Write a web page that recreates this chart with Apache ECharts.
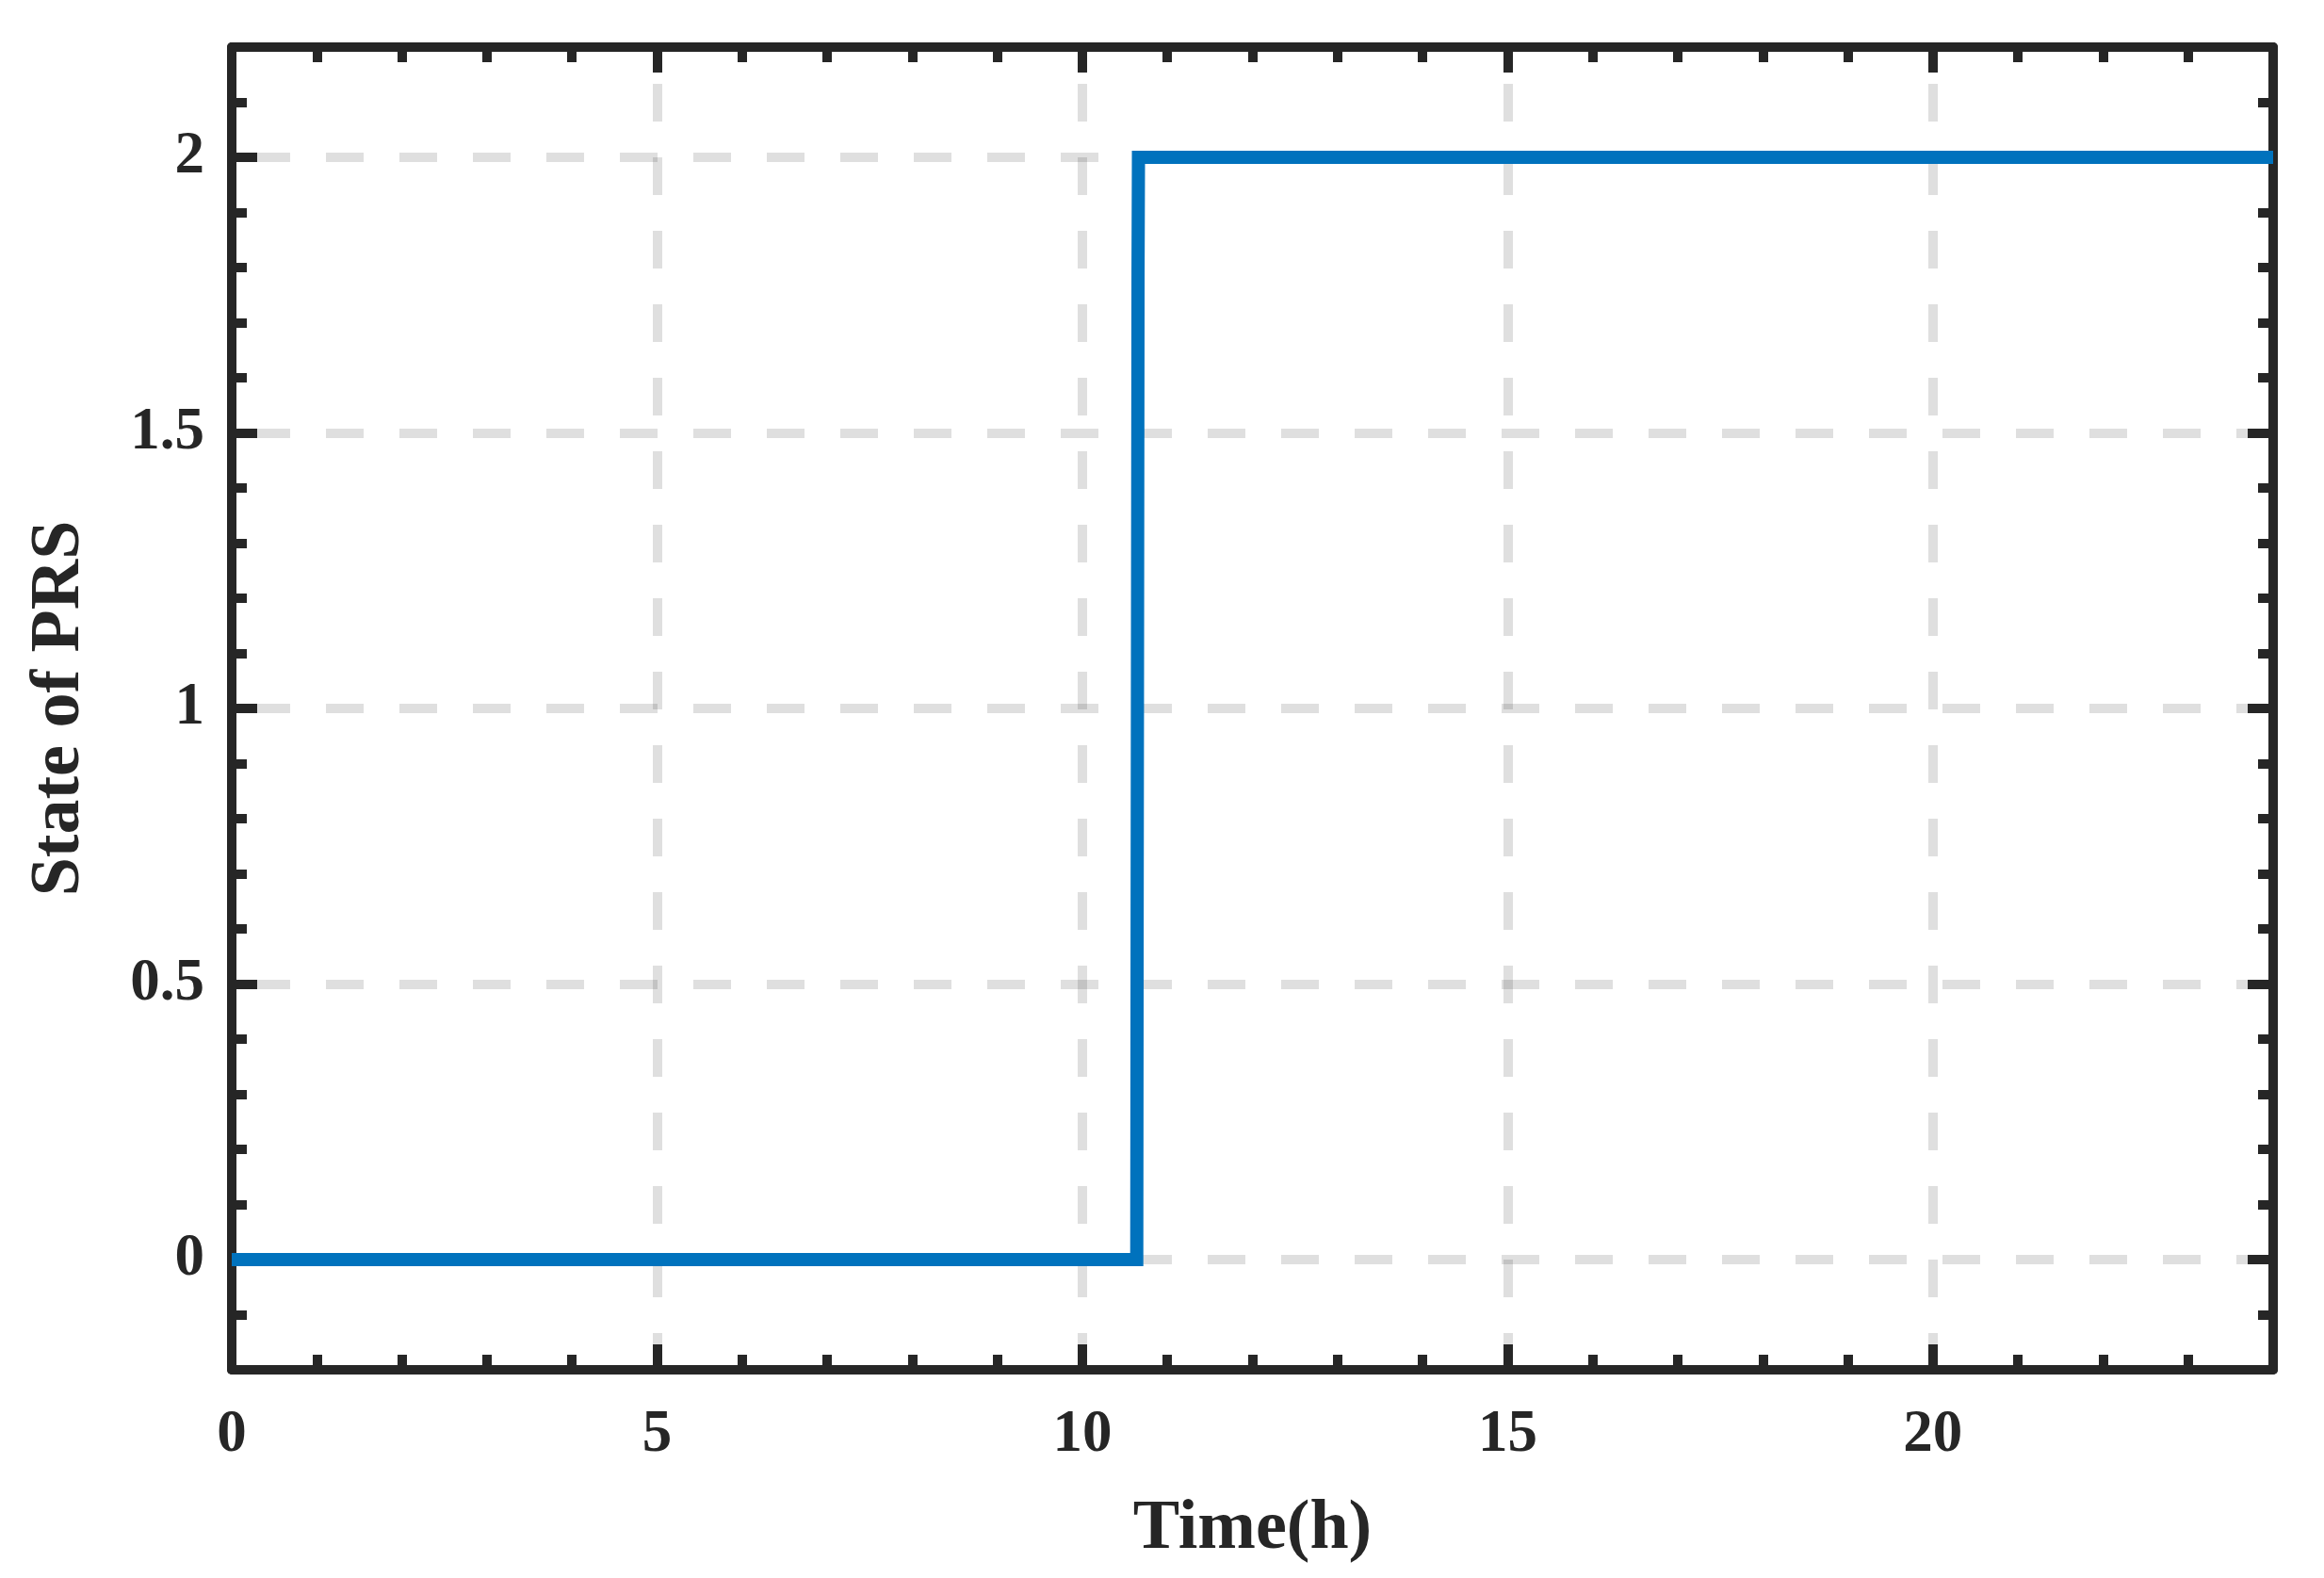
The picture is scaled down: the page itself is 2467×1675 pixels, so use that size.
<!DOCTYPE html>
<html><head><meta charset="utf-8">
<script src="https://cdn.jsdelivr.net/npm/echarts@6/dist/echarts.min.js"></script>
<style>html,body{margin:0;padding:0;background:#fff}#c{width:2467px;height:1675px}</style>
</head><body><div id="c"></div>
<script>
// ---- data ----
const timeH    = [0, 10.64, 10.645, 10.655, 10.66, 24];
const statePRS = [0, 0, 0.68, 1.79, 2, 2];
const xTickValues = [0, 5, 10, 15, 20];
const yTickValues = [0, 0.5, 1, 1.5, 2];
const xRange = [0, 24];
const yRange = [-0.2, 2.2];
const xName = 'Time(h)';
const yName = 'State of PRS';

const FONT = 'Liberation Serif';
const INK = '#262626';
const GRIDLINE = 'rgba(0,0,0,0.125)';

function mainX(pos, withLabel) {
  return {
    type: 'value', position: pos, min: xRange[0], max: xRange[1],
    axisLine: { show: true, onZero: false, lineStyle: { color: INK, width: 10 } },
    axisTick: { show: true, inside: true, length: 27, customValues: xTickValues, lineStyle: { color: INK, width: 10 } },
    axisLabel: withLabel ? { show: true, customValues: xTickValues, margin: 38, color: INK, fontFamily: FONT, fontWeight: 'bold', fontSize: 63 } : { show: false },
    splitLine: withLabel ? { show: true, lineStyle: { color: GRIDLINE, width: 10, type: [40, 38], dashOffset: 39 } } : { show: false },
    name: withLabel ? xName : '', nameLocation: 'middle', nameGap: 133,
    nameTextStyle: { color: INK, fontFamily: FONT, fontWeight: 'bold', fontSize: 74 }
  };
}
function minorX(pos) {
  return {
    type: 'value', position: pos, min: xRange[0], max: xRange[1], interval: 1,
    axisLine: { show: false, onZero: false },
    axisTick: { show: true, inside: true, length: 16, lineStyle: { color: INK, width: 10 } },
    axisLabel: { show: false }, splitLine: { show: false }
  };
}
function mainY(pos, withLabel) {
  return {
    type: 'value', position: pos, min: yRange[0], max: yRange[1],
    axisLine: { show: true, onZero: false, lineStyle: { color: INK, width: 10 } },
    axisTick: { show: true, inside: true, length: 27, customValues: yTickValues, lineStyle: { color: INK, width: 10 } },
    axisLabel: withLabel ? { show: true, customValues: yTickValues, margin: 29, color: INK, fontFamily: FONT, fontWeight: 'bold', fontSize: 63, padding: [0, 0, 20, 0] } : { show: false },
    splitLine: withLabel ? { show: true, lineStyle: { color: GRIDLINE, width: 10, type: [40, 38], dashOffset: 56 } } : { show: false },
    name: withLabel ? yName : '', nameLocation: 'middle', nameGap: 145, nameRotate: 90,
    nameTextStyle: { color: INK, fontFamily: FONT, fontWeight: 'bold', fontSize: 74 }
  };
}
function minorY(pos) {
  return {
    type: 'value', position: pos, min: yRange[0], max: yRange[1], interval: 0.1,
    axisLine: { show: false, onZero: false },
    axisTick: { show: true, inside: true, length: 16, lineStyle: { color: INK, width: 10 } },
    axisLabel: { show: false }, splitLine: { show: false }
  };
}

const chart = echarts.init(document.getElementById('c'), null, { renderer: 'canvas' });
chart.setOption({
  animation: false,
  backgroundColor: '#ffffff',
  grid: { left: 246, right: 54, top: 50, bottom: 221, containLabel: false, outerBoundsMode: 'none' },
  xAxis: [mainX('bottom', true), minorX('bottom'), mainX('top', false), minorX('top')],
  yAxis: [mainY('left', true), minorY('left'), mainY('right', false), minorY('right')],
  series: [{
    type: 'line', xAxisIndex: 0, yAxisIndex: 0,
    data: timeH.map((t, i) => [t, statePRS[i]]),
    showSymbol: false, symbol: 'none',
    lineStyle: { color: '#0072BD', width: 14, join: 'miter', cap: 'butt' },
    z: 3
  }]
});
</script></body></html>
